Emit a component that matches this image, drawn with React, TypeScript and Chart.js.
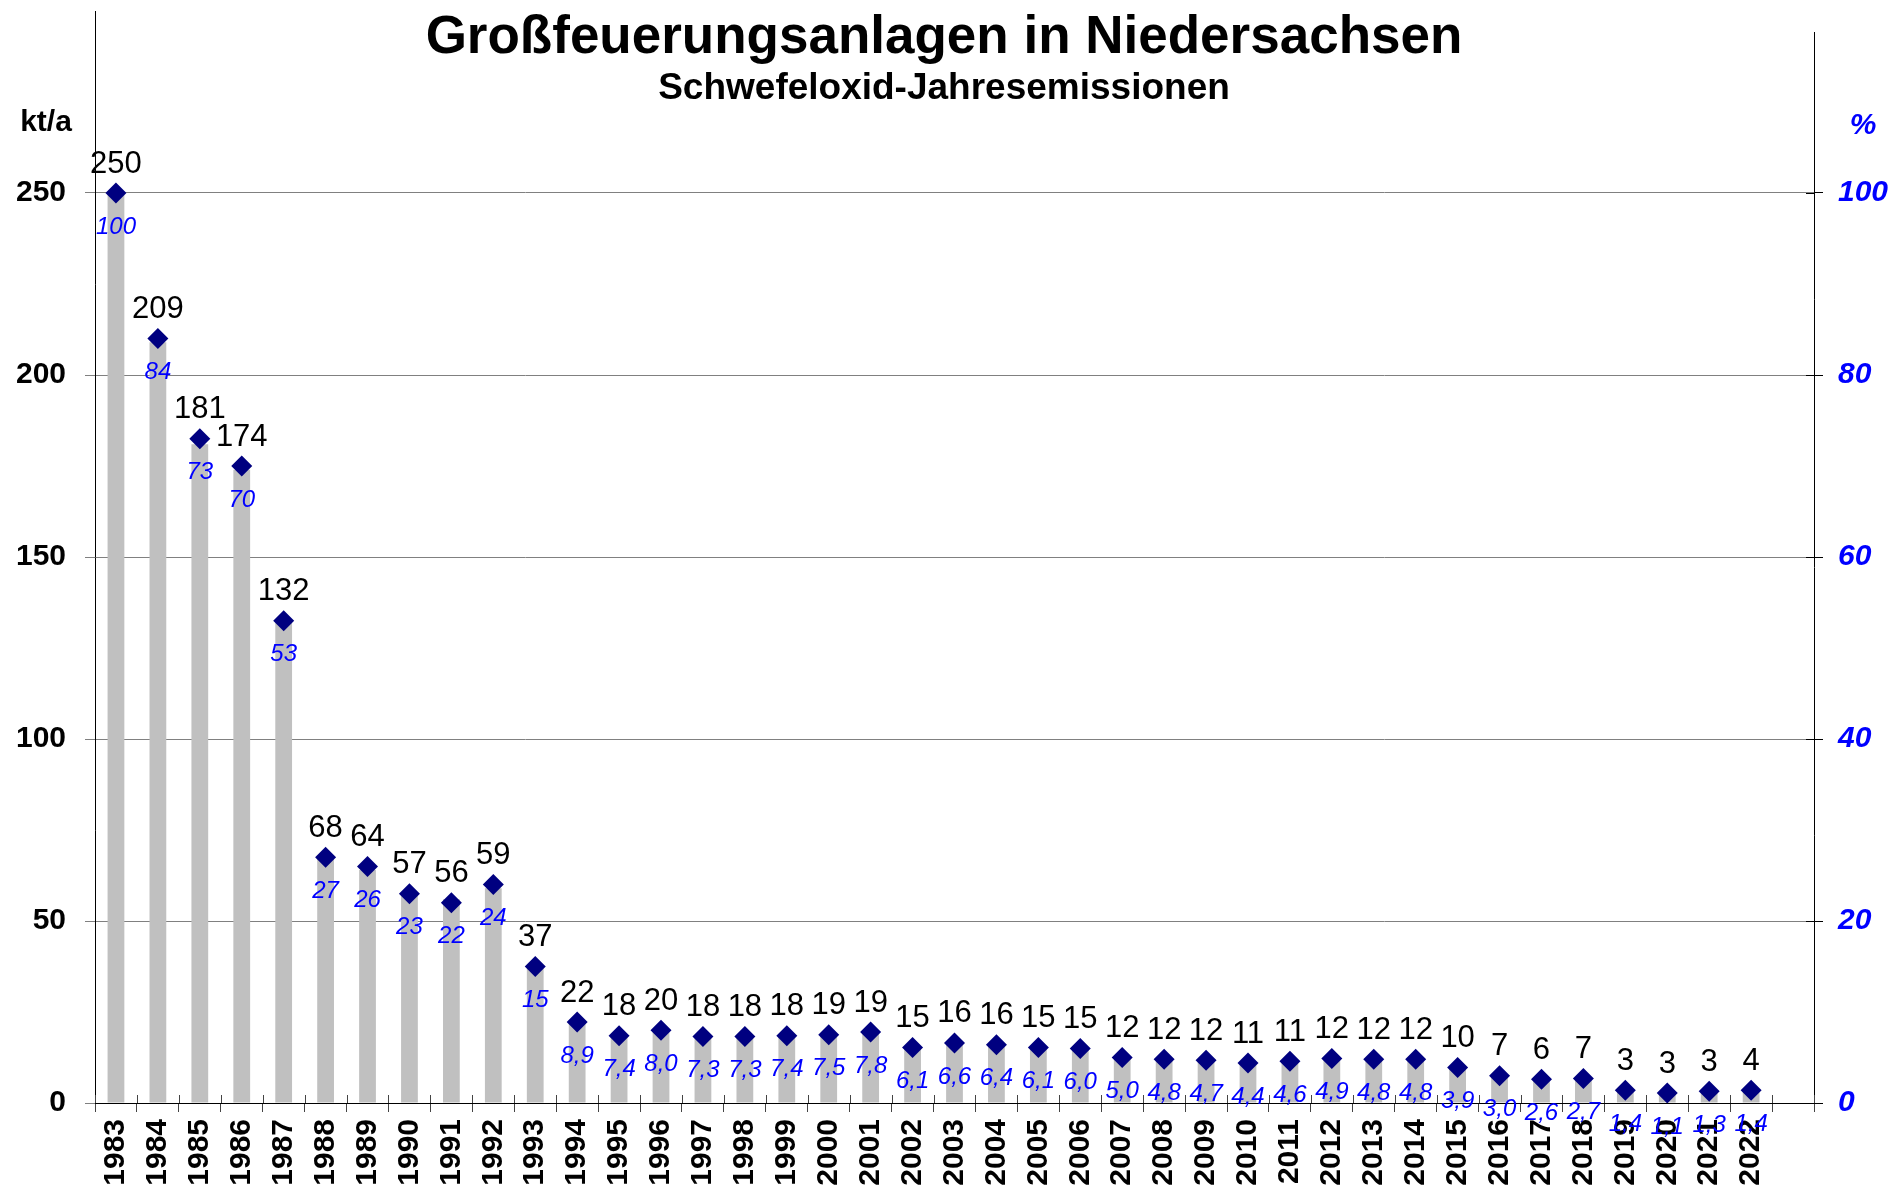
import React, { useEffect, useRef } from "react";
import { Chart, registerables } from "chart.js";

Chart.register(...registerables);

// ---------- data ----------
const years = [
  "1983", "1984", "1985", "1986", "1987", "1988", "1989", "1990", "1991", "1992",
  "1993", "1994", "1995", "1996", "1997", "1998", "1999", "2000", "2001", "2002",
  "2003", "2004", "2005", "2006", "2007", "2008", "2009", "2010", "2011", "2012",
  "2013", "2014", "2015", "2016", "2017", "2018", "2019", "2020", "2021", "2022",
];
// an empty trailing category (the axis runs one slot past 2022)
const categories = [...years, ""];

// SO2 emissions, kt/a
const emissionsKt = [
  250, 209, 181, 174, 132, 68, 64, 57, 56, 59,
  37, 22.3, 18.4, 20.0, 18.3, 18.3, 18.4, 18.7, 19.4, 15.2,
  16.4, 16.0, 15.2, 15.0, 12.4, 12.0, 11.8, 11.0, 11.4, 12.2,
  12.0, 12.0, 9.8, 7.4, 6.4, 6.8, 3.4, 2.8, 3.2, 3.6,
];
// share of 1983 level, %
const percentOf1983 = [
  100, 84, 73, 70, 53, 27, 26, 23, 22, 24,
  15, 8.9, 7.4, 8.0, 7.3, 7.3, 7.4, 7.5, 7.8, 6.1,
  6.6, 6.4, 6.1, 6.0, 5.0, 4.8, 4.7, 4.4, 4.6, 4.9,
  4.8, 4.8, 3.9, 3.0, 2.6, 2.7, 1.4, 1.1, 1.3, 1.4,
];

const leftAxisMax = 300;
const leftAxisStep = 50;
const rightAxisMax = 120;
const rightAxisStep = 20;

const titleText = "Großfeuerungsanlagen in Niedersachsen";
const subtitleText = "Schwefeloxid-Jahresemissionen";
const leftUnit = "kt/a";
const rightUnit = "%";

// ---------- style ----------
const FONT = "'Liberation Sans', Arial, Helvetica, sans-serif";
const W = 1894;
const H = 1189;

const formatPct = (v: number) =>
  v >= 10 ? String(Math.round(v)) : v.toFixed(1).replace(".", ",");

const decorPlugin = {
  id: "decor",
  afterDatasetsDraw(chart: any) {
    const ctx = chart.ctx as CanvasRenderingContext2D;
    const area = chart.chartArea;
    ctx.save();

    // right axis line (starts a little below the plot top)
    ctx.strokeStyle = "#000";
    ctx.lineWidth = 1;
    const rx = Math.round(area.right) + 0.5;
    ctx.beginPath();
    ctx.moveTo(rx, 32);
    ctx.lineTo(rx, area.bottom);
    ctx.stroke();

    // crossing parts of tick marks (inside the plot)
    ctx.strokeStyle = "#444";
    const n = categories.length;
    const step = (area.right - area.left) / n;
    for (let i = 0; i <= n; i++) {
      const px = Math.round(area.left + i * step) + 0.5;
      ctx.beginPath();
      ctx.moveTo(px, area.bottom - 8);
      ctx.lineTo(px, area.bottom);
      ctx.stroke();
    }
    const y1 = chart.scales.y1;
    ctx.strokeStyle = "#000";
    for (let v = 0; v < rightAxisMax; v += rightAxisStep) {
      const py = Math.round(y1.getPixelForValue(v)) + 0.5;
      ctx.beginPath();
      ctx.moveTo(area.right - 8, py);
      ctx.lineTo(area.right, py);
      ctx.stroke();
    }

    // data labels
    const meta = chart.getDatasetMeta(0);
    ctx.textAlign = "center";
    ctx.textBaseline = "middle";
    meta.data.forEach((pt: any, i: number) => {
      const { x, y } = pt;
      ctx.fillStyle = "#000";
      ctx.font = `31px ${FONT}`;
      ctx.fillText(String(Math.round(emissionsKt[i])), x, y - 29);
      ctx.fillStyle = "#0000FF";
      ctx.font = `italic 24px ${FONT}`;
      ctx.fillText(formatPct(percentOf1983[i]), x, y + 34);
    });

    // titles
    ctx.fillStyle = "#000";
    ctx.textBaseline = "alphabetic";
    ctx.font = `bold 53px ${FONT}`;
    ctx.fillText(titleText, 944, 53);
    ctx.font = `bold 37px ${FONT}`;
    ctx.fillText(subtitleText, 944, 99);

    // unit labels
    ctx.textBaseline = "middle";
    ctx.font = `bold 30px ${FONT}`;
    ctx.fillText(leftUnit, 46, 123);
    ctx.fillStyle = "#0000FF";
    ctx.font = `italic bold 30px ${FONT}`;
    ctx.fillText(rightUnit, 1863, 126);

    ctx.restore();
  },
};

export default function App() {
  const ref = useRef<HTMLCanvasElement | null>(null);

  useEffect(() => {
    if (!ref.current) return;
    const chart = new Chart(ref.current, {
      type: "bar",
      data: {
        labels: categories,
        datasets: [
          {
            type: "line",
            label: "%",
            data: percentOf1983,
            yAxisID: "y1",
            showLine: false,
            pointStyle: "rectRot",
            pointRadius: 10.5,
            pointHoverRadius: 10.5,
            pointBackgroundColor: "#000080",
            pointBorderColor: "#000080",
            pointBorderWidth: 0,
            order: 0,
          } as any,
          {
            type: "bar",
            label: "kt/a",
            data: emissionsKt,
            yAxisID: "y",
            backgroundColor: "#C0C0C0",
            borderWidth: 0,
            barPercentage: 0.4,
            categoryPercentage: 1.0,
            order: 1,
          },
        ],
      },
      options: {
        responsive: false,
        animation: false,
        events: [],
        layout: { padding: { top: 11, left: 0, right: 0, bottom: 0 } },
        plugins: {
          legend: { display: false },
          tooltip: { enabled: false },
          title: { display: false },
        },
        scales: {
          x: {
            type: "category",
            offset: true,
            grid: {
              display: true,
              drawOnChartArea: false,
              offset: true,
              tickLength: 9,
              color: "#444",
            },
            border: { display: true, color: "#000", width: 1 },
            ticks: {
              autoSkip: false,
              minRotation: 90,
              maxRotation: 90,
              padding: 7,
              color: "#000",
              font: { family: FONT, size: 30, weight: "bold" },
            },
            afterFit: (s: any) => {
              s.height = 86;
              s.paddingLeft = 0;
              s.paddingRight = 0;
            },
          },
          y: {
            position: "left",
            min: 0,
            max: leftAxisMax,
            grid: {
              color: "#808080",
              tickLength: 10,
              drawOnChartArea: true,
            },
            border: { display: true, color: "#000", width: 1 },
            ticks: {
              stepSize: leftAxisStep,
              padding: 19,
              color: "#000",
              font: { family: FONT, size: 30, weight: "bold" },
              callback: (v: any) => (v >= leftAxisMax ? null : String(v)),
            },
            afterFit: (s: any) => {
              s.width = 95;
              s.paddingTop = 0;
              s.paddingBottom = 0;
            },
          },
          y1: {
            position: "right",
            min: 0,
            max: rightAxisMax,
            grid: {
              drawOnChartArea: false,
              tickLength: 9,
              color: "#000",
            },
            border: { display: false },
            ticks: {
              stepSize: rightAxisStep,
              padding: 15,
              color: "#0000FF",
              font: { family: FONT, size: 30, weight: "bold", style: "italic" },
              callback: (v: any) => (v >= rightAxisMax ? null : String(v)),
            },
            afterFit: (s: any) => {
              s.width = 80;
              s.paddingTop = 0;
              s.paddingBottom = 0;
            },
          },
        },
      },
      plugins: [decorPlugin],
    });
    return () => chart.destroy();
  }, []);

  return (
    <div style={{ position: "absolute", left: 0, top: 0, width: W, height: H, background: "#fff" }}>
      <canvas ref={ref} width={W} height={H} style={{ display: "block", width: W, height: H }} />
    </div>
  );
}
